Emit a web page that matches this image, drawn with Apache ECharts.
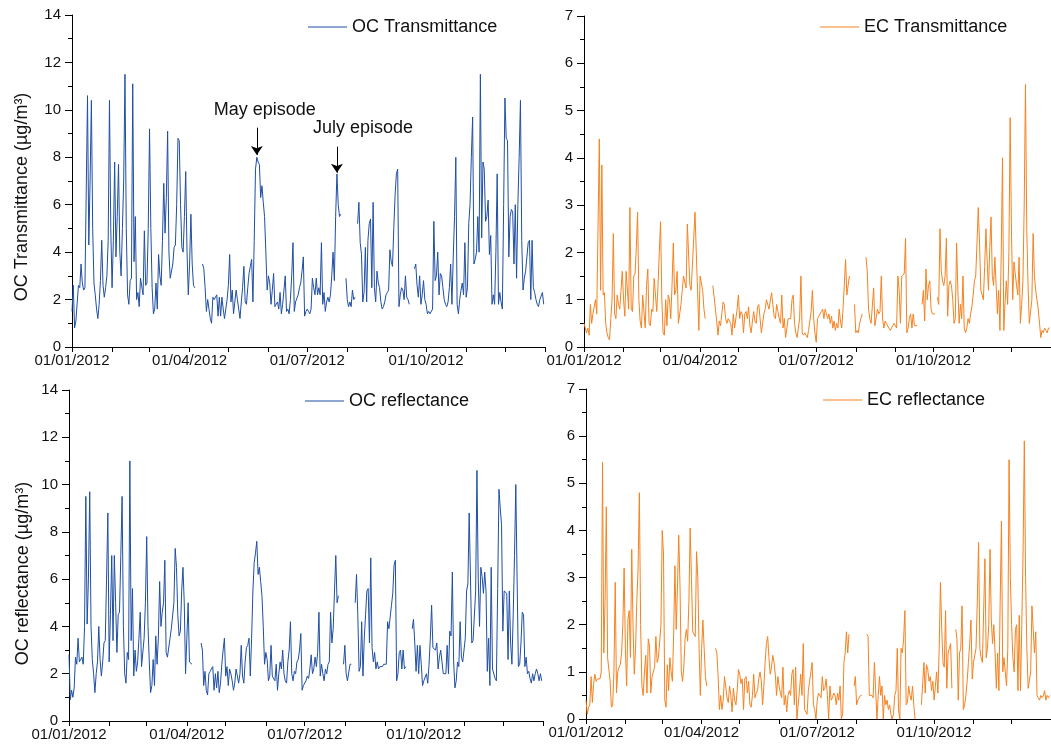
<!DOCTYPE html>
<html>
<head>
<meta charset="utf-8">
<title>OC / EC 2012</title>
<script src="https://cdn.jsdelivr.net/npm/echarts@6/dist/echarts.min.js"></script>
<style>
  html, body { margin: 0; padding: 0; background: #fff; }
  #main { width: 1051px; height: 749px; }
</style>
</head>
<body>
<div id="main"></div>
<script>
// daily values for 2012 (366 days, 01/01 -> 31/12), null = no measurement
var ocTrans = [
  1.5, 2.6, 0.8, 1.1, 1.1, 2.6, 2.5, 3.5, 2.7, 2.4,
  2.5, 2.5, 10.6, 4.3, 7.0, 10.4, 5.0, 2.7, 2.2, 1.6,
  1.2, 1.8, 2.8, 4.5, 2.6, 2.1, 2.5, 3.0, 4.5, 10.4,
  5.0, 2.5, 4.5, 7.8, 3.8, 5.5, 7.7, 4.0, 3.0, 5.0,
  7.0, 11.5, 5.0, 2.2, 1.8, 2.8, 2.9, 11.1, 3.6, 5.5,
  2.0, 2.3, 1.7, 2.9, 2.9, 2.2, 4.9, 2.6, 2.7, 5.0,
  9.2, 5.0, 2.5, 1.4, 1.6, 2.7, 1.6, 3.9, 3.0, 2.6,
  4.5, 6.9, 4.8, 6.3, 9.1, 4.0, 2.9, 2.9, 3.5, 4.2,
  4.3, 6.0, 8.8, 8.7, 6.0, 4.2, 4.0, 5.5, 7.4, 4.0,
  2.2, 3.5, 5.6, 3.5, 2.6, 2.5, null, null, null, null,
  null, 3.5, 3.3, 2.5, 1.5, 2.0, 1.6, 1.2, 1.0, 2.1,
  2.0, 2.0, 2.2, 1.3, 2.1, 1.3, 2.1, 1.6, 1.2, 1.6,
  2.0, 2.6, 3.9, 1.9, 2.4, 1.4, 1.9, 2.4, 2.0, 1.6,
  1.2, 1.9, 2.5, 3.4, 1.9, 1.8, 2.5, 3.1, 3.4, 3.7,
  1.9, 4.5, 7.5, 8.0, 7.8, 7.7, 6.3, 6.8, 6.1, 5.5,
  4.0, 2.4, 3.0, 2.7, 1.8, 2.4, 3.1, 1.7, 1.8, 1.9,
  1.6, 2.3, 1.4, 1.8, 2.4, 3.0, 1.5, 1.6, 1.4, 2.0,
  3.0, 4.4, 1.5, 1.9, 1.9, 2.2, 2.5, 2.7, 3.2, 3.8,
  1.3, 1.5, 1.6, 1.5, 1.4, 1.6, 2.9, 2.5, 2.2, 2.9,
  2.2, 2.5, 2.2, 4.4, 1.8, 2.3, 1.5, 1.9, 2.1, 1.9,
  2.2, 3.0, 4.0, 2.8, 5.5, 7.3, 6.0, 5.5, 5.6, null,
  null, null, 2.9, 2.0, 1.7, 1.9, 1.7, 2.4, 2.0, 2.1,
  null, 5.2, 6.1, 4.4, 3.9, 1.9, 2.3, 4.2, 1.9, 4.5,
  5.2, 5.4, 2.5, 6.1, 2.5, 1.9, 3.2, 2.7, 2.5, 1.9,
  1.6, 1.7, 1.9, 2.2, 2.3, 2.4, 4.1, 3.6, 3.4, 5.0,
  6.4, 7.3, 7.5, 1.7, 2.2, 2.5, 2.4, 2.0, 3.0, 2.1,
  2.0, 1.8, null, null, null, 3.3, 3.5, 2.6, 2.1, 3.0,
  1.8, 2.2, 2.8, 2.0, 1.8, 1.4, 1.5, 1.4, 1.4, 1.6,
  5.3, 2.8, 3.0, 4.0, 2.2, 3.1, 3.0, 2.5, 2.0, 1.8,
  1.7, 1.9, 2.5, 3.5, 1.8, 3.8, 5.5, 8.0, 1.8, 1.4,
  2.0, 2.4, 2.7, 2.2, 4.4, 2.1, 2.5, 5.2, 6.0, 8.0,
  9.7, 3.5, 3.7, 4.0, 5.5, 4.0, 11.5, 4.6, 7.8, 7.5,
  5.3, 5.5, 6.2, 3.9, 4.7, 1.8, 2.2, 1.8, 4.0, 7.3,
  1.8, 2.3, 1.9, 1.6, 6.0, 10.5, 8.8, 8.7, 3.8, 5.5,
  5.8, 5.7, 3.5, 6.0, 2.9, 6.0, 8.0, 10.4, 4.5, 2.4,
  2.9, 3.2, 3.8, 4.4, 4.5, 2.0, 4.5, 2.5, 2.3, 2.0,
  1.8, 1.7, 2.0, 2.0, 2.3, 1.8
];

var ecTrans = [
  0.5, 0.5, 0.3, 0.4, 0.25, 0.9, 0.5, 0.7, 0.85, 1.0,
  0.7, 0.7, 4.4, 1.2, 3.85, 1.1, 1.15, 0.5, 0.3, 0.2,
  0.15, 0.6, 1.0, 2.4, 0.7, 0.6, 1.1, 0.9, 0.8, 1.2,
  1.6, 1.0, 0.65, 1.6, 1.6, 0.8, 2.95, 0.8, 0.75, 1.5,
  1.55, 2.1, 2.85, 1.0, 0.55, 0.4, 1.1, 1.1, 0.4, 1.3,
  1.65, 0.5, 0.45, 0.8, 0.75, 1.45, 1.1, 0.75, 1.3, 2.0,
  2.65, 1.0, 0.3, 0.25, 1.0, 0.45, 1.1, 1.0, 0.6, 1.3,
  2.2, 1.1, 1.2, 1.6, 0.5, 0.7, 0.9, 1.2, 1.5, 1.5,
  1.25, 2.6, 2.6, 1.3, 1.2, 1.2, 2.3, 2.85, 2.0, 1.2,
  0.35, 1.5, 1.5, 1.2, 0.8, 0.6, null, null, null, null,
  null, 1.3, 1.3, 0.8, 0.55, 0.25, 0.55, 0.45, 0.45, 0.95,
  0.9, 0.6, 0.5, 0.6, 0.55, 0.5, 0.25, 0.7, 0.4, 0.4,
  0.8, 1.1, 0.6, 0.75, 0.7, 0.3, 0.7, 0.75, 0.6, 0.85,
  0.45, 0.3, 0.55, 0.75, 0.55, 0.5, 0.85, 0.9, 0.6, 0.3,
  0.5, 0.7, 0.8, 1.0, 1.0, 0.8, 0.8, 1.15, 0.9, 0.65,
  0.6, 0.9, 0.75, 0.6, 0.5, 1.1, 0.4, 0.6, 0.2, 0.2,
  0.6, 0.6, 0.6, 1.0, 1.1, 0.5, 0.3, 0.2, 0.2, 0.6,
  1.5, 0.3, 0.25, 0.3, 0.25, 0.2, 0.35, 0.55, 0.75, 1.2,
  0.6, 0.3, 0.1, 0.6, 0.65, 0.7, 0.75, 0.8, 0.6, 0.8,
  0.7, 0.6, 0.7, 0.5, 0.65, 0.4, 0.55, 0.35, 0.5, 0.4,
  0.8, 0.55, 0.4, 0.8, 1.3, 1.85, 1.1, 1.3, 1.5, null,
  null, null, 0.9, 0.3, 0.35, 0.3, 0.5, 0.6, 0.7, null,
  null, 1.9, 1.6, 0.8, 0.6, 0.5, 0.5, 1.25, 0.45, 0.45,
  0.8, 0.7, 0.75, 1.5, 0.6, 0.4, 0.55, 0.5, 0.5, 0.4,
  0.35, 0.4, 0.45, 0.5, 0.5, 0.4, 1.5, 1.2, 0.5, 1.5,
  1.5, 1.55, 2.3, 0.3, 0.4, 0.6, 0.7, 0.4, 0.7, 0.45,
  0.45, 0.45, null, null, null, 0.9, 1.2, 0.55, 1.65, 1.0,
  1.3, 1.4, 0.8, 0.7, 0.7, 0.7, null, 1.05, 0.9, 2.5,
  1.6, 1.4, 1.3, 1.5, 2.3, 0.65, 1.3, 1.4, 1.3, 1.0,
  0.5, 0.6, 2.2, 1.2, 0.5, 0.9, 0.6, 1.5, 0.4, 0.3,
  0.4, 0.6, 0.5, 0.7, 0.85, 1.1, 1.4, 1.5, 2.2, 2.95,
  2.2, 1.2, 1.2, 1.0, 1.7, 2.5, 1.8, 1.2, 2.1, 2.75,
  1.5, 1.3, 1.9, 1.3, 0.7, 1.2, 0.35, 2.0, 4.0, 0.35,
  0.95, 1.4, 0.9, 2.0, 4.85, 2.5, 1.0, 1.8, 1.8, 1.3,
  1.1, 1.9, 0.5, 0.9, 1.4, 3.0, 5.55, 2.5, 1.3, 0.5,
  0.5, 1.0, 2.4, 1.5, 1.2, 1.0, 0.8, 0.5, 0.2, 0.35,
  0.3, 0.4, 0.35, 0.3, 0.4, 0.4
];

var ocRefl = [
  2.8, 0.9, 1.3, 1.0, 1.4, 2.7, 2.4, 3.5, 2.5, 2.5,
  2.7, 2.4, 4.0, 9.5, 4.1, 6.0, 9.7, 4.0, 2.6, 2.0,
  1.2, 2.0, 2.5, 4.0, 2.6, 1.9, 2.5, 3.3, 3.4, 6.0,
  8.8, 2.5, 4.5, 7.0, 3.4, 7.0, 5.0, 2.9, 4.5, 4.6,
  7.0, 9.5, 4.0, 2.0, 1.6, 2.9, 2.6, 11.0, 3.4, 5.6,
  1.9, 3.0, 2.1, 2.5, 3.5, 4.6, 2.3, 2.3, 3.5, 5.0,
  7.8, 4.0, 2.5, 1.2, 1.5, 2.6, 1.5, 3.6, 2.4, 3.5,
  5.9, 4.0, 4.6, 5.0, 6.8, 2.9, 2.7, 2.7, 3.5, 3.9,
  3.9, 5.0, 7.3, 6.5, 4.5, 3.6, 3.8, 5.5, 6.5, 5.0,
  2.0, 3.5, 5.0, 2.5, 2.5, 2.4, null, null, null, null,
  null, null, 3.3, 3.0, 1.5, 2.1, 1.3, 1.1, 2.0, 2.1,
  2.1, 2.3, 1.3, 2.0, 1.4, 2.1, 1.2, 1.6, 2.4, 3.0,
  3.5, 1.9, 2.3, 1.5, 2.2, 2.0, 1.7, 1.3, 1.6, 2.2,
  2.2, 1.6, 2.0, 3.2, 1.9, 1.6, 2.5, 3.1, 3.2, 3.5,
  1.9, 3.5, 5.5, 6.7, 7.1, 7.6, 6.2, 6.5, 5.9, 5.3,
  4.0, 2.4, 2.9, 2.6, 1.7, 1.9, 3.2, 1.9, 1.9, 1.7,
  2.4, 1.3, 2.0, 2.5, 2.2, 3.0, 2.0, 1.7, 1.6, 2.5,
  3.0, 4.2, 2.0, 1.7, 2.1, 2.0, 2.5, 2.6, 3.0, 3.7,
  1.3, 1.5, 1.5, 1.7, 1.9, 1.8, 2.2, 2.8, 2.0, 2.2,
  2.7, 2.3, 2.9, 4.6, 1.9, 2.4, 2.0, 1.7, 2.2, 2.0,
  2.4, 2.5, 4.6, 3.3, 3.9, 5.5, 7.0, 5.0, 5.3, null,
  null, null, 2.4, 3.2, 2.0, 1.7, 1.7, 2.4, 2.4, null,
  null, 5.0, 6.2, 4.5, 2.1, 2.3, 4.2, 1.9, 3.5, 4.5,
  5.5, 5.6, 3.3, 6.9, 3.1, 2.5, 2.9, 2.2, 2.5, 2.2,
  2.3, 2.3, 2.3, 2.4, 2.4, 2.4, 4.2, 3.9, 3.9, 4.9,
  5.4, 6.6, 6.8, 1.7, 2.0, 2.9, 3.0, 2.2, 3.0, 2.2,
  2.3, null, null, null, null, 3.9, 4.3, 3.3, 2.1, 3.2,
  2.0, 3.2, 2.4, 1.5, 1.7, 1.7, 2.0, 1.6, 2.4, 3.5,
  4.9, 3.1, 3.1, 3.0, 3.3, 2.2, 2.7, 3.0, 2.5, 2.0,
  2.0, 2.0, 3.2, 2.0, 3.8, 3.6, 6.3, 2.5, 1.4, 1.7,
  2.5, 2.3, 4.2, 2.7, 2.5, 3.0, 3.5, 5.5, 5.8, 8.8,
  8.8, 3.3, 3.4, 3.4, 5.5, 10.6, 6.0, 4.0, 6.5, 6.1,
  5.4, 6.3, 5.5, 2.1, 3.5, 1.5, 6.5, 2.2, 2.2, 1.8,
  1.7, 5.6, 9.8, 9.0, 8.3, 3.8, 5.5, 5.5, 5.4, 2.6,
  5.5, 3.3, 2.4, 4.5, 7.0, 10.0, 6.0, 2.3, 2.4, 3.3,
  4.6, 4.5, 2.3, 2.7, 2.0, 2.1, 1.8, 1.6, 2.0, 1.7,
  2.0, 2.2, 2.0, 1.7, 2.0, 1.7
];

var ecRefl = [
  0.4, 0.1, 0.25, 0.3, 0.9, 0.35, 0.75, 0.95, 0.8, 0.85,
  0.85, 0.85, 1.0, 5.45, 1.4, 2.5, 4.5, 1.3, 1.3, 0.8,
  0.25, 0.3, 1.0, 2.9, 0.55, 1.0, 1.1, 1.15, 1.4, 2.0,
  3.2, 1.5, 0.7, 2.1, 2.3, 1.3, 3.6, 2.0, 0.95, 1.5,
  2.5, 3.2, 4.8, 2.0, 0.7, 0.5, 1.0, 1.35, 0.55, 1.7,
  1.55, 0.55, 0.9, 0.9, 1.1, 1.75, 1.2, 1.3, 1.3, 2.0,
  4.0, 3.5, 0.4, 0.25, 1.15, 0.6, 1.3, 1.0, 0.8, 1.8,
  3.25, 1.9, 2.8, 3.9, 2.8, 1.0, 0.8, 1.1, 1.7, 1.9,
  1.65, 2.5, 4.05, 3.0, 1.85, 1.8, 1.75, 3.55, 3.0, 1.5,
  0.5, 1.5, 2.1, 1.5, 0.9, 0.7, null, null, null, null,
  null, null, 1.5, 1.4, 0.9, 0.2, 0.5, 0.2, 0.4, 0.9,
  0.9, 0.45, 0.35, 0.7, 0.5, 0.15, 0.65, 0.4, 0.3, 0.6,
  1.05, 0.95, 0.75, 0.85, 0.2, 0.85, 0.9, 0.55, 0.8, 0.3,
  0.25, 0.5, 0.95, 0.45, 0.55, 0.6, 0.85, 1.0, 0.8, 0.3,
  0.7, 1.2, 1.6, 1.75, 1.3, 0.95, 1.1, 1.35, 1.2, 0.95,
  0.5, 0.9, 0.7, 0.55, 0.45, 1.1, 0.3, 0.5, 0.15, 0.5,
  0.6, 0.5, 0.95, 1.05, 0.3, 1.1, 0.0, 0.0, 0.6, 0.95,
  0.5, 1.6, 0.2, 0.2, 0.1, 0.6, 0.6, 1.0, 1.2, 0.3,
  0.2, 0.0, 0.4, 0.55, 0.55, 0.45, 0.9, 0.6, 0.65, 0.85,
  0.5, 0.0, 0.7, 0.4, 0.45, 0.55, 0.5, 0.3, 0.55, 0.4,
  0.7, 0.0, 0.1, 1.2, 1.4, 1.85, 1.4, 1.8, null, null,
  null, 0.7, 0.9, 0.3, 0.4, 0.4, 0.5, 0.5, null, null,
  null, 1.8, 1.75, 0.5, 0.5, 0.5, 0.45, 1.2, 0.6, 0.0,
  0.5, 0.9, 0.5, 0.7, 0.0, 0.5, 0.3, 0.4, 0.2, 0.3,
  0.1, 0.0, 0.1, 0.5, 0.6, 1.5, 0.2, 0.0, 1.5, 1.4,
  1.7, 2.3, 0.3, 0.35, 0.7, 0.5, 0.4, 0.7, 0.3, 0.0,
  null, null, null, null, 0.3, 0.3, 1.2, 0.55, 1.15, 1.05,
  0.8, 0.9, 0.6, 0.8, 0.4, 0.7, 1.0, 0.55, 1.5, 2.9,
  1.9, 1.2, 1.1, 2.3, 0.65, 1.4, 1.5, 1.6, 0.65, null,
  null, 1.9, 1.7, 0.4, 1.4, 1.5, 2.4, 0.2, 0.3, 0.5,
  0.8, 1.2, 1.6, 2.1, 0.85, 1.2, 1.2, 1.5, 2.5, 3.75,
  1.5, 1.3, 1.2, 1.2, 3.4, 1.3, 1.5, 2.0, 3.6, 2.1,
  1.6, 2.0, 1.4, 0.65, 1.4, 0.6, 2.5, 4.2, 1.0, 1.3,
  1.0, 0.7, 1.5, 5.5, 3.0, 2.0, 1.3, 1.0, 1.9, 2.0,
  0.6, 2.2, 0.6, 2.0, 3.5, 5.9, 3.0, 1.5, 0.65, 0.65,
  1.0, 2.4, 1.9, 1.4, 1.85, 0.5, 0.45, 0.4, 0.5, 0.45,
  0.5, 0.6, 0.4, 0.5, 0.45, 0.5
];

// episode arrows on the OC transmittance panel: [date, arrow top, arrow tip, label]
var episodes = [
  ['2012-05-23', 9.25, 8.1, 'May episode'],
  ['2012-07-24', 8.45, 7.35, 'July episode']
];

// category axis: every day of 2012 plus 01/01/2013 as the axis end
var days = [];
var d0 = Date.UTC(2012, 0, 1);
for (var i = 0; i <= 366; i++) {
  var dt = new Date(d0 + i * 86400000);
  var mm = ('0' + (dt.getUTCMonth() + 1)).slice(-2);
  var dd = ('0' + dt.getUTCDate()).slice(-2);
  days.push(dt.getUTCFullYear() + '-' + mm + '-' + dd);
}

var FONT = '"Liberation Sans", Arial, Helvetica, sans-serif';
var BLUE = '#1f4ea3';
var ORANGE = '#f58220';

function tickAt(idx, val) {
  return val.slice(8) === '01';
}
function labelAt(idx, val) {
  var m = val.slice(5, 7);
  return val.slice(0, 4) === '2012' && val.slice(8) === '01' &&
    (m === '01' || m === '04' || m === '07' || m === '10');
}

function xAxis(gi) {
  return {
    type: 'category',
    gridIndex: gi,
    data: days,
    boundaryGap: false,
    axisLine: { lineStyle: { color: '#000', width: 1 } },
    axisTick: { show: true, inside: false, length: 5, interval: tickAt, lineStyle: { color: '#000' } },
    axisLabel: {
      interval: labelAt,
      margin: 6,
      fontSize: 15,
      fontFamily: FONT,
      color: '#111',
      formatter: function (v) {
        return v.slice(8) + '/' + v.slice(5, 7) + '/' + v.slice(0, 4);
      }
    },
    splitLine: { show: false }
  };
}

function yAxis(gi, max, step, name, gap, shift) {
  return {
    type: 'value',
    gridIndex: gi,
    min: 0,
    max: max,
    interval: step,
    name: name,
    nameLocation: 'middle',
    nameGap: gap,
    nameRotate: 90,
    nameTextStyle: { fontSize: 18, fontFamily: FONT, color: '#111', padding: [0, shift, 0, 0] },
    axisLine: { show: true, lineStyle: { color: '#000', width: 1 } },
    axisTick: { show: true, inside: false, length: 7, lineStyle: { color: '#000' } },
    minorTick: { show: true, splitNumber: 2, length: 4, lineStyle: { color: '#000' } },
    axisLabel: { margin: 11, fontSize: 15, fontFamily: FONT, color: '#111' },
    splitLine: { show: false },
    minorSplitLine: { show: false }
  };
}

function lineSeries(name, gi, data, color) {
  return {
    name: name,
    type: 'line',
    xAxisIndex: gi,
    yAxisIndex: gi,
    data: data,
    symbol: 'none',
    connectNulls: false,
    lineStyle: { color: color, width: 1 },
    itemStyle: { color: color },
    emphasis: { disabled: true }
  };
}

// plain line sample + name, no symbol
function legendAt(name, left, top) {
  return {
    data: [{ name: name, icon: 'rect' }],
    left: left,
    top: top,
    padding: 0,
    itemWidth: 39,
    itemHeight: 1,
    selectedMode: false,
    textStyle: { fontSize: 18, fontFamily: FONT, color: '#111' }
  };
}

var myChart = echarts.init(document.getElementById('main'), null, { renderer: 'canvas' });

var ocT = lineSeries('OC Transmittance', 0, ocTrans, BLUE);
// arrows and labels of the two episodes
ocT.markLine = {
  silent: true,
  symbol: ['none', 'arrow'],
  symbolSize: 9,
  label: { show: false },
  lineStyle: { color: '#000', width: 1, type: 'solid' },
  data: episodes.map(function (e) {
    return [{ coord: [e[0], e[1]] }, { coord: [e[0], e[2]] }];
  })
};
ocT.markPoint = {
  silent: true,
  symbol: 'rect',
  symbolSize: 1,
  itemStyle: { color: 'rgba(0,0,0,0)' },
  label: { show: true, position: 'inside', fontSize: 18, fontFamily: FONT, color: '#111', formatter: '{b}' },
  data: [
    { name: episodes[0][3], coord: [episodes[0][0], episodes[0][1]], label: { offset: [8, -18] } },
    { name: episodes[1][3], coord: [episodes[1][0], episodes[1][1]], label: { offset: [26, -19] } }
  ]
};

var option = {
  animation: false,
  textStyle: { fontFamily: FONT },
  grid: [
    { left: 72, top: 15, width: 473, height: 332 },
    { left: 584, top: 16, width: 473, height: 331 },
    { left: 69, top: 390, width: 474, height: 331 },
    { left: 586, top: 389, width: 475, height: 330 }
  ],
  legend: [
    legendAt('OC Transmittance', 308, 18),
    legendAt('EC Transmittance', 820, 18),
    legendAt('OC reflectance', 305, 392),
    legendAt('EC reflectance', 823, 391)
  ],
  xAxis: [xAxis(0), xAxis(1), xAxis(2), xAxis(3)],
  yAxis: [
    yAxis(0, 14, 2, 'OC Transmittance (\u00b5g/m\u00b3)', 41, 32),
    yAxis(1, 7, 1, '', 40, 0),
    yAxis(2, 14, 2, 'OC reflectance (\u00b5g/m\u00b3)', 37, 36),
    yAxis(3, 7, 1, '', 40, 0)
  ],
  series: [
    ocT,
    lineSeries('EC Transmittance', 1, ecTrans, ORANGE),
    lineSeries('OC reflectance', 2, ocRefl, BLUE),
    lineSeries('EC reflectance', 3, ecRefl, ORANGE)
  ]
};

myChart.setOption(option);
</script>
</body>
</html>
